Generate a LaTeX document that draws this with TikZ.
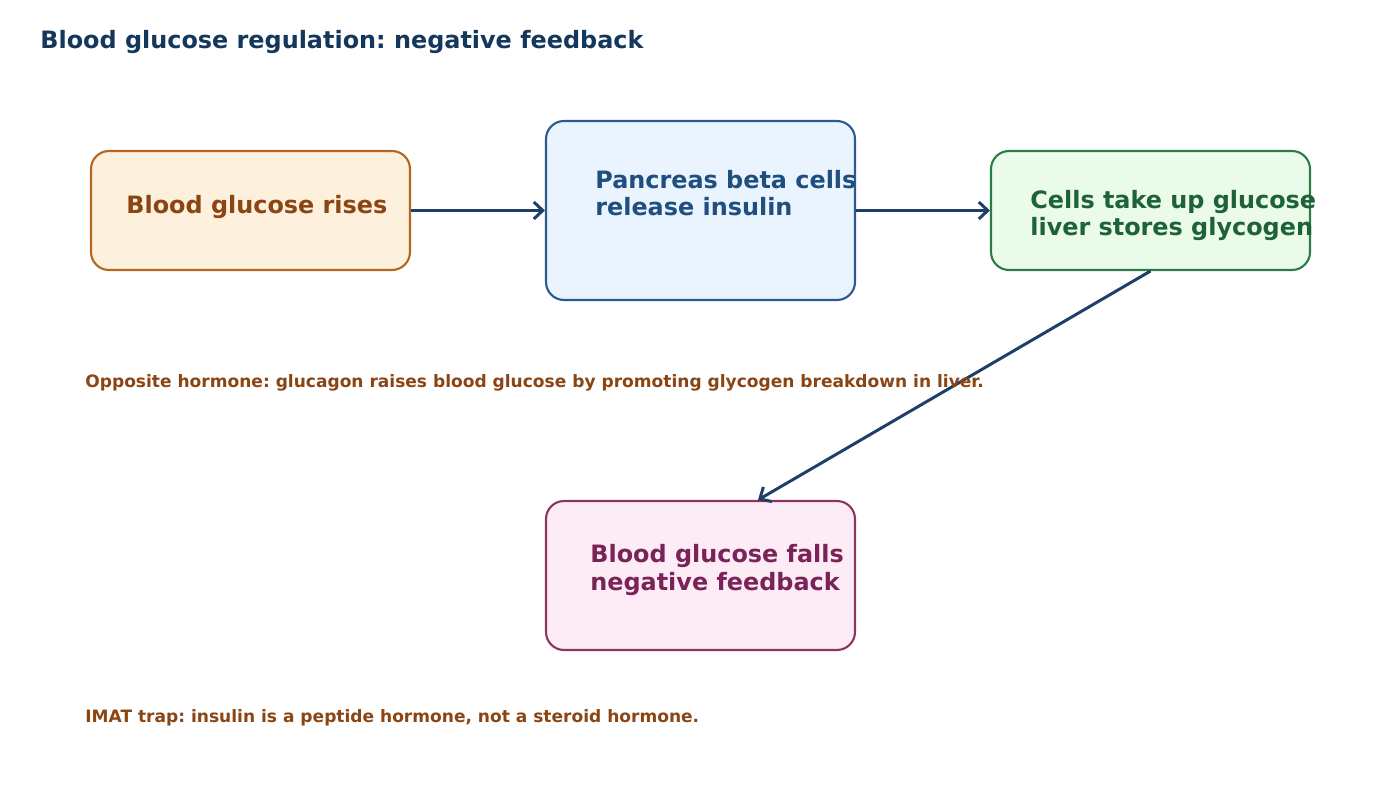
\documentclass[tikz,border=0pt]{standalone}
\usepackage{fontspec}
\setmainfont{DejaVu Sans}
\frenchspacing
\usepackage{xcolor}
\usepackage{tikz}
\usetikzlibrary{arrows.meta,positioning,calc}
\definecolor{risecolor}{HTML}{B5651D}
\definecolor{risefill}{HTML}{FDF0DC}
\definecolor{risetext}{HTML}{8B4513}
\definecolor{panccolor}{HTML}{2A5A8F}
\definecolor{pancfill}{HTML}{EAF4FE}
\definecolor{panctext}{HTML}{1F4E7F}
\definecolor{cellcolor}{HTML}{2A7D45}
\definecolor{cellfill}{HTML}{EAFCE9}
\definecolor{celltext}{HTML}{1E6238}
\definecolor{fallcolor}{HTML}{8E3463}
\definecolor{fallfill}{HTML}{FDEBF5}
\definecolor{falltext}{HTML}{7A2358}
\definecolor{arrowcolor}{HTML}{1F3F6B}
\definecolor{titlecolor}{HTML}{14385C}
\definecolor{notecolor}{HTML}{8B4513}

\begin{document}
\begin{tikzpicture}[
  box/.style={draw, line width=1.2pt, rounded corners=0.36cm, inner sep=0pt},
  boxtext/.style={font=\fontsize{13.6}{15.4}\selectfont\bfseries, align=left, anchor=base west, inner sep=0pt},
  flow/.style={draw=arrowcolor, line width=1.7pt, -{Straight Barb[length=1.8mm,width=3.4mm]}},
  note/.style={font=\fontsize{9.7}{11}\selectfont\bfseries, text=notecolor, anchor=base west, inner sep=0pt}
]
\useasboundingbox (0,0) rectangle (28,-16);

% title
\node[font=\fontsize{13.6}{15}\selectfont\bfseries, text=titlecolor, anchor=base west, inner sep=0pt] (title) at (0.8,-0.97) {Blood glucose regulation: negative feedback};

% boxes
\node[box, draw=risecolor, fill=risefill, minimum width=6.38cm, minimum height=2.38cm] (rise) at (5.01,-4.21) {};
\node[box, draw=panccolor, fill=pancfill, minimum width=6.18cm, minimum height=3.58cm] (panc) at (14.01,-4.21) {};
\node[box, draw=cellcolor, fill=cellfill, minimum width=6.38cm, minimum height=2.38cm] (cells) at (23.01,-4.21) {};
\node[box, draw=fallcolor, fill=fallfill, minimum width=6.18cm, minimum height=2.98cm] (fall) at (14.01,-11.51) {};

% box texts (base = last line)
\node[boxtext, text=risetext] (risetxt) at (2.52,-4.28) {Blood glucose rises};
\node[boxtext, text=panctext] (panctxt) at (11.9,-4.32) {Pancreas beta cells\\release insulin};
\node[boxtext, text=celltext] (celltxt) at (20.6,-4.72) {Cells take up glucose\\liver stores glycogen};
\node[boxtext, text=falltext] (falltxt) at (11.8,-11.80) {Blood glucose falls\\negative feedback};

% arrows
\draw[flow] (rise.east) -- (panc.west);
\draw[flow] (panc.east) -- (cells.west);
\coordinate (fallin) at ([xshift=1.15cm]fall.north);
\draw[flow] (cells.south) -- (fallin);

% notes
\node[note] (glucagon) at (1.7,-7.76) {Opposite hormone: glucagon raises blood glucose by promoting glycogen breakdown in liver.};
\node[note] (trap) at (1.7,-14.44) {IMAT trap: insulin is a peptide hormone, not a steroid hormone.};
\end{tikzpicture}
\end{document}
